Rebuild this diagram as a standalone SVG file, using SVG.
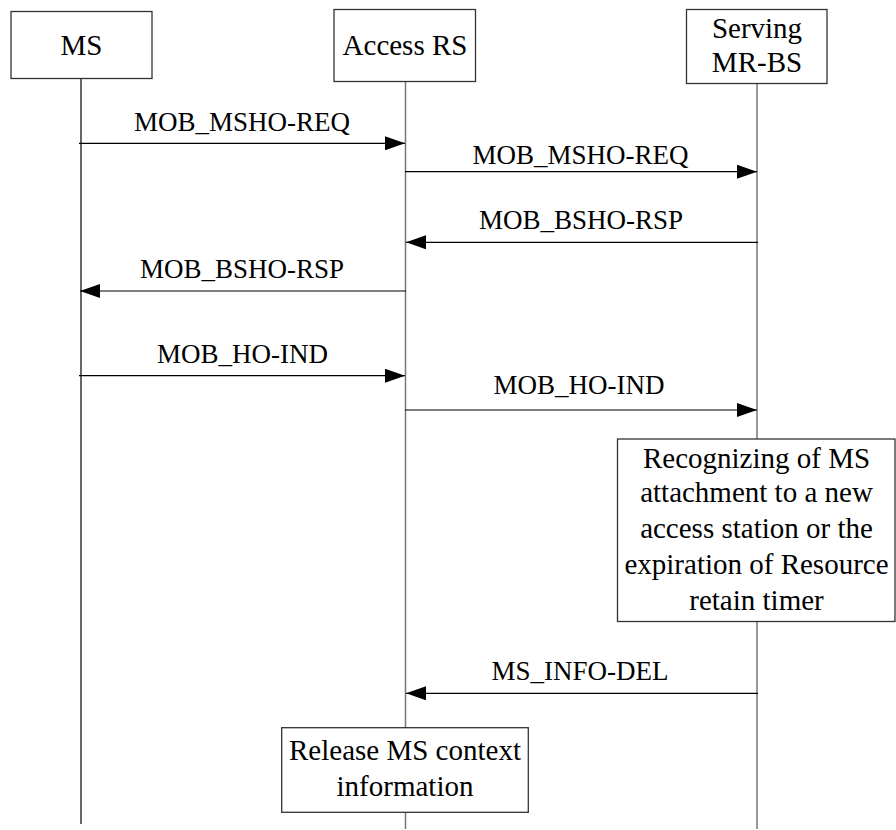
<svg xmlns="http://www.w3.org/2000/svg" width="896" height="830" viewBox="0 0 896 830">
<style>
.box{fill:#fff;stroke:#333;stroke-width:1.3}
.life{stroke:#777;stroke-width:1.5;fill:none}
.msg{stroke:#000;stroke-width:1.2;fill:none}
.lbl{font-family:"Liberation Serif","Times New Roman",serif;font-size:27px;fill:#000;text-anchor:middle}
.nt{font-family:"Liberation Serif","Times New Roman",serif;font-size:29px;fill:#000;text-anchor:middle}
</style>
<defs>
<marker id="ah" markerWidth="20" markerHeight="14" refX="20" refY="7" orient="auto" markerUnits="userSpaceOnUse">
<path d="M0,0 L20,7 L0,14 Z" fill="#000"/>
</marker>
</defs>
<g id="lifelines">
<line class="life" x1="81" y1="78" x2="81" y2="824" style="stroke:#333"/>
<line class="life" x1="405.5" y1="82" x2="405.5" y2="829"/>
<line class="life" x1="757" y1="83" x2="757" y2="829"/>
</g>
<g id="node-ms">
<rect class="box" x="11" y="11.5" width="141" height="67"/>
<text class="nt" x="81.5" y="55">MS</text>
</g>
<g id="node-access-rs">
<rect class="box" x="334" y="9.5" width="141.5" height="72"/>
<text class="nt" x="405" y="55">Access RS</text>
</g>
<g id="node-serving">
<rect class="box" x="686.5" y="9.5" width="140.5" height="74"/>
<text class="nt" x="757" y="38">Serving</text>
<text class="nt" x="757" y="72">MR-BS</text>
</g>
<g id="connectors">
<line class="msg" x1="79" y1="143.3" x2="405" y2="143.3" marker-end="url(#ah)"/>
<text class="lbl" x="242" y="131">MOB_MSHO-REQ</text>
<line class="msg" x1="405" y1="171.7" x2="757" y2="171.7" marker-end="url(#ah)"/>
<text class="lbl" x="580.5" y="163.5">MOB_MSHO-REQ</text>
<line class="msg" x1="758" y1="242.3" x2="406" y2="242.3" marker-end="url(#ah)"/>
<text class="lbl" x="581" y="228.5">MOB_BSHO-RSP</text>
<line class="msg" x1="406" y1="291" x2="80" y2="291" marker-end="url(#ah)"/>
<text class="lbl" x="242" y="277.5">MOB_BSHO-RSP</text>
<line class="msg" x1="79" y1="375.7" x2="405" y2="375.7" marker-end="url(#ah)"/>
<text class="lbl" x="242.5" y="363">MOB_HO-IND</text>
<line class="msg" x1="405" y1="410" x2="757" y2="410" marker-end="url(#ah)"/>
<text class="lbl" x="579" y="393.5">MOB_HO-IND</text>
<line class="msg" x1="758" y1="693.3" x2="406" y2="693.3" marker-end="url(#ah)"/>
<text class="lbl" x="580" y="680">MS_INFO-DEL</text>
</g>
<g id="note-recognizing">
<rect class="box" x="617.5" y="439" width="277.5" height="182.5"/>
<text class="nt" x="756.5" y="467.5">Recognizing of MS</text>
<text class="nt" x="756.5" y="502">attachment to a new</text>
<text class="nt" x="756.5" y="538">access station or the</text>
<text class="nt" x="756.5" y="573.5">expiration of Resource</text>
<text class="nt" x="756.5" y="609.5">retain timer</text>
</g>
<g id="note-release">
<rect class="box" x="281.7" y="727.7" width="246.6" height="84.6"/>
<text class="nt" x="405" y="760">Release MS context</text>
<text class="nt" x="405" y="796">information</text>
</g>
</svg>
